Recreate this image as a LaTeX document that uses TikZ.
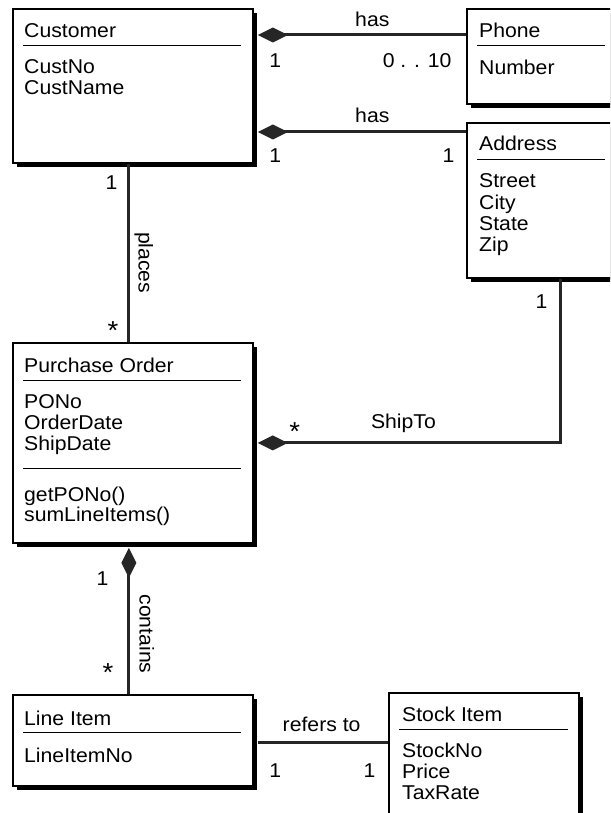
\documentclass[tikz,border=0pt]{standalone}
\usepackage{fontspec}
\setmainfont{Liberation Sans}[FakeStretch=1.06]
\usepackage{tikz}
\usetikzlibrary{positioning, arrows.meta, shadows}

\newcommand{\umlfont}{\fontsize{20}{21}\selectfont}

\begin{document}
\begin{tikzpicture}[x=1pt, y=-1pt,
        classbox/.style={draw, line width=1.8pt, fill=white, anchor=north west, inner sep=0pt,
            drop shadow={shadow xshift=4pt, shadow yshift=-4pt, fill=black, opacity=1}},
        txt/.style={anchor=base west, inner sep=0pt, font=\umlfont},
        sep/.style={line width=1pt},
        assoc/.style={draw=black!85, line width=3pt},
        comp/.style={assoc, arrows={Diamond[length=30pt, width=15pt]-}},
        lbl/.style={inner sep=0pt, font=\umlfont},
        star/.style={inner sep=0pt, font=\fontsize{26}{26}\selectfont}]

    \useasboundingbox (0, 0) rectangle (610, 813);
    \clip (0, 0) rectangle (610, 813);

    % Customer
    \node[classbox, minimum width=240pt, minimum height=154pt] (customer) at (12, 8) {};
    \node[txt] (customerT) at (24, 38) {Customer};
    \draw[sep] (23, 46) -- (241, 46);
    \node[txt] (custNo) at (24, 74) {CustNo};
    \node[txt] (custName) at (24, 95) {CustName};

    % Phone
    \node[classbox, minimum width=150pt, minimum height=95pt] (phone) at (466, 8) {};
    \node[txt] (phoneT) at (479, 38) {Phone};
    \draw[sep] (477, 46) -- (605, 46);
    \node[txt] (phoneNo) at (479, 75) {Number};

    % Address
    \node[classbox, minimum width=150pt, minimum height=155pt] (address) at (466, 122) {};
    \node[txt] (addressT) at (479, 151) {Address};
    \draw[sep] (477, 160) -- (605, 160);
    \node[txt] (street) at (479, 188) {Street};
    \node[txt] (city) at (479, 209) {City};
    \node[txt] (state) at (479, 230) {State};
    \node[txt] (zip) at (479, 251) {Zip};

    % Purchase Order
    \node[classbox, minimum width=240pt, minimum height=200pt] (po) at (12, 342) {};
    \node[txt] (poT) at (24, 372) {Purchase Order};
    \draw[sep] (23, 380) -- (241, 380);
    \node[txt] (poNo) at (24, 408) {PONo};
    \node[txt] (orderDate) at (24, 429) {OrderDate};
    \node[txt] (shipDate) at (24, 450) {ShipDate};
    \draw[sep] (23, 468) -- (241, 468);
    \node[txt] (getPONo) at (24, 501) {getPONo()};
    \node[txt] (sumItems) at (24, 521) {sumLineItems()};

    % Line Item
    \node[classbox, minimum width=240pt, minimum height=91pt] (lineitem) at (12, 694) {};
    \node[txt] (lineitemT) at (24, 725) {Line Item};
    \draw[sep] (23, 732) -- (241, 732);
    \node[txt] (lineitemNo) at (24, 762) {LineItemNo};

    % Stock Item
    \node[classbox, minimum width=190pt, minimum height=140pt] (stock) at (388, 692) {};
    \node[txt] (stockT) at (402, 721) {Stock Item};
    \draw[sep] (399, 729) -- (568, 729);
    \node[txt] (stockNo) at (402, 757) {StockNo};
    \node[txt] (price) at (402, 778) {Price};
    \node[txt] (taxRate) at (402, 799) {TaxRate};

    % associations
    \draw[comp] ([xshift=4pt, yshift=-27pt]customer.north east) -- ([yshift=-27pt]phone.north west)
        node[lbl, above=7pt, pos=0.55] (has1) {has}
        node[lbl, below right=17pt and 10pt, pos=0] (has1a) {1}
        node[lbl, below left=17pt and 13pt, pos=1] (has1b) {0 . . 10};
    \draw[comp] ([xshift=4pt, yshift=-124pt]customer.north east) -- ([yshift=-10pt]address.north west)
        node[lbl, above=8pt, pos=0.55] (has2) {has}
        node[lbl, below right=15pt and 10pt, pos=0] (has2a) {1}
        node[lbl, below left=15pt and 10pt, pos=1] (has2b) {1};
    \draw[assoc] ([xshift=-4pt]customer.south) -- ([xshift=-4pt]po.north)
        node[lbl, below left=10pt and 10pt, pos=0] (placesA) {1}
        node[star, above left=1pt and 9pt, pos=1] (placesB) {*}
        node[lbl, above, inner sep=4pt, rotate=-90, pos=0.555] (places) {places};
    \draw[comp] ([xshift=4pt]po.east) -| ([xshift=94pt]address.south west)
        node[star, above right=1pt and 30pt, pos=0] (shipA) {*}
        node[lbl, above=9pt, pos=0.241] (shipTo) {ShipTo}
        node[lbl, below left=14pt and 11pt, pos=1] (shipB) {1};
    \draw[comp] ([shift={(-4pt,-4pt)}]po.south) -- ([xshift=-4pt]lineitem.north)
        node[lbl, below left=22pt and 19pt, pos=0] (containsA) {1}
        node[star, above left=11pt and 14pt, pos=1] (containsB) {*}
        node[lbl, above, inner sep=9pt, rotate=-90, pos=0.59] (contains) {contains};
    \coordinate (refL) at ([xshift=4pt, yshift=-2.5pt]lineitem.east);
    \draw[assoc] (refL) -- (refL -| stock.west)
        node[lbl, above=10pt, pos=0.49] (refersTo) {refers to}
        node[lbl, below right=19pt and 10pt, pos=0] (refA) {1}
        node[lbl, below left=19pt and 11pt, pos=1] (refB) {1};
\end{tikzpicture}
\end{document}
